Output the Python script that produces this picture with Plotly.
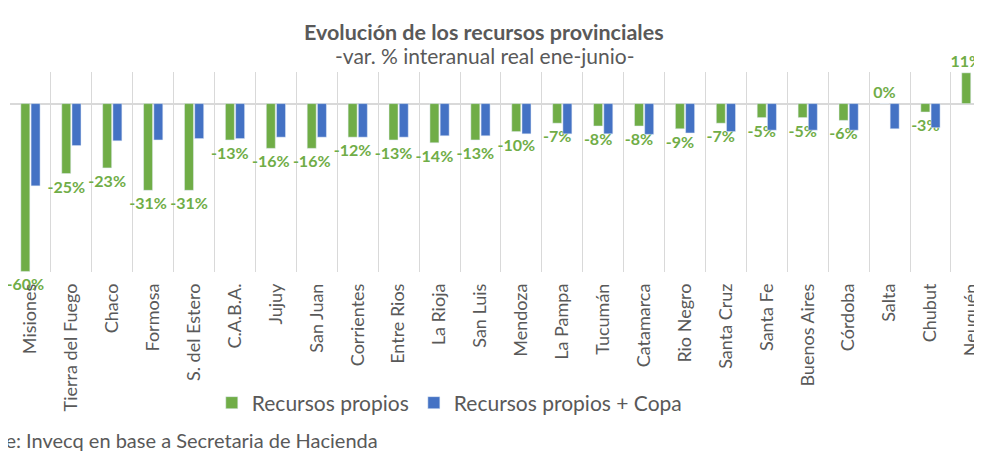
"""Evolución de los recursos provinciales: var. % interanual real ene-junio."""

import plotly.graph_objects as go

PROVINCIAS = [
    "Misiones", "Tierra del Fuego", "Chaco", "Formosa", "S. del Estero",
    "C.A.B.A.", "Jujuy", "San Juan", "Corrientes", "Entre Rios",
    "La Rioja", "San Luis", "Mendoza", "La Pampa", "Tucumán",
    "Catamarca", "Rio Negro", "Santa Cruz", "Santa Fe", "Buenos Aires",
    "Córdoba", "Salta", "Chubut", "Neuquén",
]
# Recursos propios (var. % real)
PROPIOS = [-60, -25, -23, -31, -31, -13, -16, -16, -12, -13,
           -14, -13, -10, -7, -8, -8, -9, -7, -5, -5,
           -6, 0, -3, 11]
# Recursos propios + Copa (leído a ojo de las barras azules)
PROPIOS_COPA = [-29.4, -15, -13.3, -13, -12.5, -12.5, -12, -12, -12, -12,
                -11.5, -11.5, -10.8, -10.8, -10.8, -11, -10.5, -10, -9.5, -9.5,
                -9.5, -9, -8.6, None]

GREEN = "#70AD47"
BLUE = "#4472C4"
GRAY = "#595959"
FONT = "Lato"

fig = go.Figure()
fig.add_trace(go.Bar(
    x=PROVINCIAS, y=PROPIOS, name="Recursos propios",
    marker_color=GREEN,
    text=[f"{v}%" for v in PROPIOS], textposition="outside",
    constraintext="none",
    textfont=dict(family=FONT, size=16, color=GREEN, weight="bold"),
    cliponaxis=False,
))
fig.add_trace(go.Bar(
    x=PROVINCIAS, y=PROPIOS_COPA, name="Recursos propios + Copa",
    marker_color=BLUE,
))

# titulo y subtitulo
fig.add_annotation(
    text="<b>Evolución de los recursos provinciales</b>",
    xref="paper", yref="paper", x=0.4877, y=1.2, yanchor="middle",
    showarrow=False, font=dict(family=FONT, size=21.5, color=GRAY),
)
fig.add_annotation(
    text="-var. % interanual real ene-junio-",
    xref="paper", yref="paper", x=0.4877, y=1.085, yanchor="middle",
    showarrow=False, font=dict(family=FONT, size=21, color=GRAY),
)
fig.add_annotation(
    text="Fuente: Invecq en base a Secretaria de Hacienda",
    xref="paper", yref="paper", x=0.3807, y=-0.84, xanchor="right",
    yanchor="middle", showarrow=False,
    font=dict(family=FONT, size=20, color=GRAY),
)

# la pagina deja 8px de margen en el body: el lienzo se achica en esa medida
fig.update_layout(
    width=974, height=445,
    margin=dict(l=2, r=0, t=64, b=181),
    paper_bgcolor="white", plot_bgcolor="white",
    barmode="group", bargap=0.5, bargroupgap=0.12,
    font=dict(family=FONT, color=GRAY),
    showlegend=True,
    legend=dict(
        orientation="h", x=0.2076, y=-0.655, xanchor="left", yanchor="middle",
        font=dict(family=FONT, size=21, color=GRAY),
    ),
    xaxis=dict(
        range=[-0.5, 23.26], tickson="boundaries", showgrid=True,
        gridcolor="#d9d9d9", gridwidth=1, tickangle=-90, ticks="",
        ticklabelstandoff=7, automargin=False,
        tickfont=dict(family=FONT, size=18, color=GRAY), showline=False,
    ),
    yaxis=dict(
        range=[-60.2, 11.3], showgrid=False, zeroline=True,
        zerolinecolor="#d9d9d9", zerolinewidth=2, showticklabels=False,
        ticks="", automargin=False,
    ),
)

fig.write_html("out.html")
